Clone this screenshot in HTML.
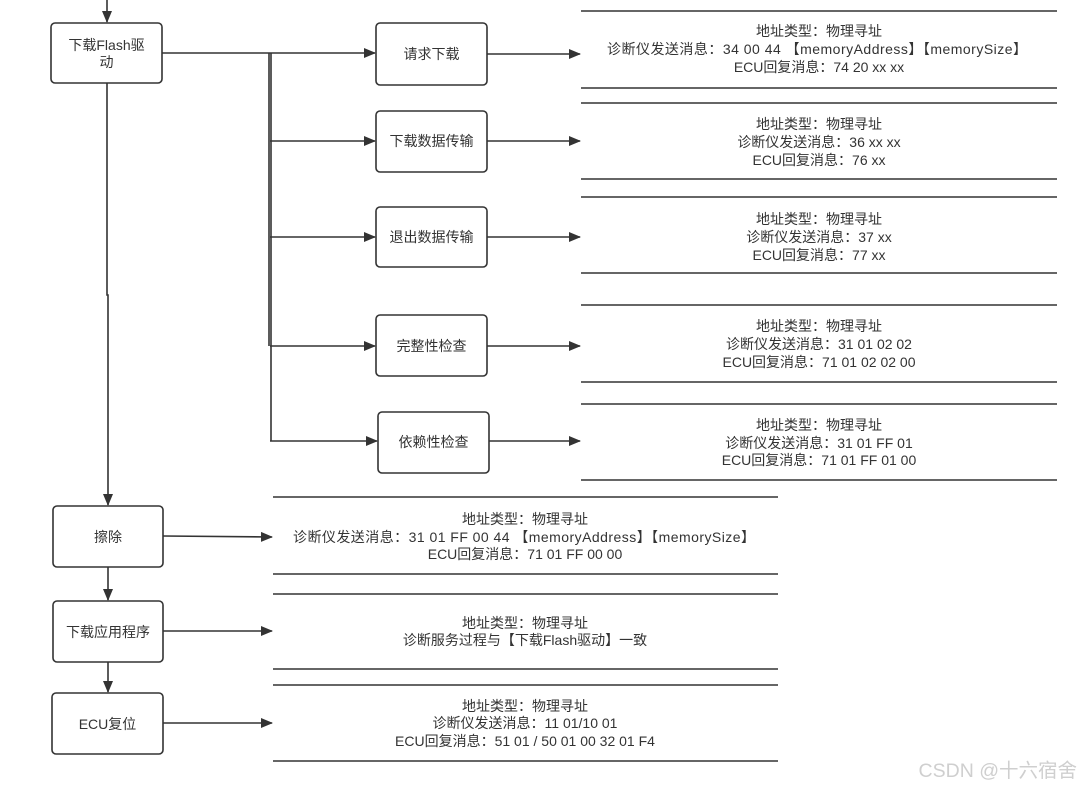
<!DOCTYPE html>
<html><head><meta charset="utf-8"><style>
html,body{margin:0;padding:0;background:#fff;}
svg{display:block;}
text{font-family:"Liberation Sans","Noto Sans CJK SC",sans-serif;font-size:14px;fill:#333;}
.b{fill:#fff;stroke:#333;stroke-width:1.6;}
.l{stroke:#333;stroke-width:1.6;fill:none;}
.h{stroke:#333;stroke-width:1.6;}
</style></head><body>
<svg width="1080" height="788" viewBox="0 0 1080 788" xmlns="http://www.w3.org/2000/svg">
<defs>
<marker id="a" markerWidth="12" markerHeight="10" refX="11" refY="5" orient="auto" markerUnits="userSpaceOnUse">
<path d="M0,0 L12,5 L0,10 Z" fill="#333"/>
</marker>
</defs>

<!-- main vertical flow -->
<line class="l" x1="107" y1="0" x2="107" y2="22" marker-end="url(#a)"/>
<polyline class="l" points="107,83 107,295 108,295 108,505" marker-end="url(#a)"/>
<line class="l" x1="108" y1="567" x2="108" y2="600" marker-end="url(#a)"/>
<line class="l" x1="108" y1="662" x2="108" y2="692" marker-end="url(#a)"/>

<!-- branch lines -->
<line class="l" x1="162" y1="53" x2="375" y2="53" marker-end="url(#a)"/>
<line class="l" x1="269" y1="53" x2="269" y2="346"/>
<line class="l" x1="271" y1="53" x2="271" y2="441"/>
<line class="l" x1="270" y1="141" x2="375" y2="141" marker-end="url(#a)"/>
<line class="l" x1="270" y1="237" x2="375" y2="237" marker-end="url(#a)"/>
<line class="l" x1="270" y1="346" x2="375" y2="346" marker-end="url(#a)"/>
<line class="l" x1="270" y1="441" x2="377" y2="441" marker-end="url(#a)"/>

<!-- right arrows from middle boxes -->
<line class="l" x1="487" y1="54" x2="580" y2="54" marker-end="url(#a)"/>
<line class="l" x1="487" y1="141" x2="580" y2="141" marker-end="url(#a)"/>
<line class="l" x1="487" y1="237" x2="580" y2="237" marker-end="url(#a)"/>
<line class="l" x1="487" y1="346" x2="580" y2="346" marker-end="url(#a)"/>
<line class="l" x1="489" y1="441" x2="580" y2="441" marker-end="url(#a)"/>

<!-- arrows from bottom boxes -->
<line class="l" x1="163" y1="536" x2="272" y2="537" marker-end="url(#a)"/>
<line class="l" x1="163" y1="631" x2="272" y2="631" marker-end="url(#a)"/>
<line class="l" x1="163" y1="723" x2="272" y2="723" marker-end="url(#a)"/>

<!-- left boxes -->
<rect class="b" x="51" y="23" width="111" height="60" rx="4"/>
<text x="106.5" y="50" text-anchor="middle">下载Flash驱</text>
<text x="106.5" y="67" text-anchor="middle">动</text>
<rect class="b" x="53" y="506" width="110" height="61" rx="4"/>
<text x="108" y="542" text-anchor="middle">擦除</text>
<rect class="b" x="53" y="601" width="110" height="61" rx="4"/>
<text x="108" y="637" text-anchor="middle">下载应用程序</text>
<rect class="b" x="52" y="693" width="111" height="61" rx="4"/>
<text x="107.5" y="729" text-anchor="middle">ECU复位</text>

<!-- middle boxes -->
<rect class="b" x="376" y="23" width="111" height="62" rx="4"/>
<text x="431.5" y="59" text-anchor="middle">请求下载</text>
<rect class="b" x="376" y="111" width="111" height="61" rx="4"/>
<text x="431.5" y="146" text-anchor="middle">下载数据传输</text>
<rect class="b" x="376" y="207" width="111" height="60" rx="4"/>
<text x="431.5" y="242" text-anchor="middle">退出数据传输</text>
<rect class="b" x="376" y="315" width="111" height="61" rx="4"/>
<text x="431.5" y="351" text-anchor="middle">完整性检查</text>
<rect class="b" x="378" y="412" width="111" height="61" rx="4"/>
<text x="433.5" y="447" text-anchor="middle">依赖性检查</text>

<!-- top-right info groups -->
<line class="h" x1="581" y1="11" x2="1057" y2="11"/>
<line class="h" x1="581" y1="88" x2="1057" y2="88"/>
<text x="819" y="36" text-anchor="middle">地址类型：物理寻址</text>
<text x="817" y="54" text-anchor="middle" textLength="420" lengthAdjust="spacing">诊断仪发送消息：34 00 44 【memoryAddress】【memorySize】</text>
<text x="819" y="72" text-anchor="middle">ECU回复消息：74 20 xx xx</text>

<line class="h" x1="581" y1="103" x2="1057" y2="103"/>
<line class="h" x1="581" y1="179" x2="1057" y2="179"/>
<text x="819" y="129" text-anchor="middle">地址类型：物理寻址</text>
<text x="819" y="147" text-anchor="middle">诊断仪发送消息：36 xx xx</text>
<text x="819" y="165" text-anchor="middle">ECU回复消息：76 xx</text>

<line class="h" x1="581" y1="197" x2="1057" y2="197"/>
<line class="h" x1="581" y1="273" x2="1057" y2="273"/>
<text x="819" y="224" text-anchor="middle">地址类型：物理寻址</text>
<text x="819" y="242" text-anchor="middle">诊断仪发送消息：37 xx</text>
<text x="819" y="260" text-anchor="middle">ECU回复消息：77 xx</text>

<line class="h" x1="581" y1="305" x2="1057" y2="305"/>
<line class="h" x1="581" y1="382" x2="1057" y2="382"/>
<text x="819" y="331" text-anchor="middle">地址类型：物理寻址</text>
<text x="819" y="349" text-anchor="middle">诊断仪发送消息：31 01 02 02</text>
<text x="819" y="367" text-anchor="middle">ECU回复消息：71 01 02 02 00</text>

<line class="h" x1="581" y1="404" x2="1057" y2="404"/>
<line class="h" x1="581" y1="480" x2="1057" y2="480"/>
<text x="819" y="430" text-anchor="middle">地址类型：物理寻址</text>
<text x="819" y="448" text-anchor="middle">诊断仪发送消息：31 01 FF 01</text>
<text x="819" y="465" text-anchor="middle">ECU回复消息：71 01 FF 01 00</text>

<!-- bottom info groups -->
<line class="h" x1="273" y1="497" x2="778" y2="497"/>
<line class="h" x1="273" y1="574" x2="778" y2="574"/>
<text x="525" y="524" text-anchor="middle">地址类型：物理寻址</text>
<text x="524" y="542" text-anchor="middle" textLength="462" lengthAdjust="spacing">诊断仪发送消息：31 01 FF 00 44 【memoryAddress】【memorySize】</text>
<text x="525" y="559" text-anchor="middle">ECU回复消息：71 01 FF 00 00</text>

<line class="h" x1="273" y1="594" x2="778" y2="594"/>
<line class="h" x1="273" y1="669" x2="778" y2="669"/>
<text x="525" y="628" text-anchor="middle">地址类型：物理寻址</text>
<text x="525" y="645" text-anchor="middle">诊断服务过程与【下载Flash驱动】一致</text>

<line class="h" x1="273" y1="685" x2="778" y2="685"/>
<line class="h" x1="273" y1="761" x2="778" y2="761"/>
<text x="525" y="711" text-anchor="middle">地址类型：物理寻址</text>
<text x="525" y="728" text-anchor="middle">诊断仪发送消息：11 01/10 01</text>
<text x="525" y="746" text-anchor="middle">ECU回复消息：51 01 / 50 01 00 32 01 F4</text>

<!-- watermark -->
<text x="1077" y="777" text-anchor="end" style="font-size:19.5px;fill:#cfcfcf;">CSDN @十六宿舍</text>
</svg>
</body></html>
